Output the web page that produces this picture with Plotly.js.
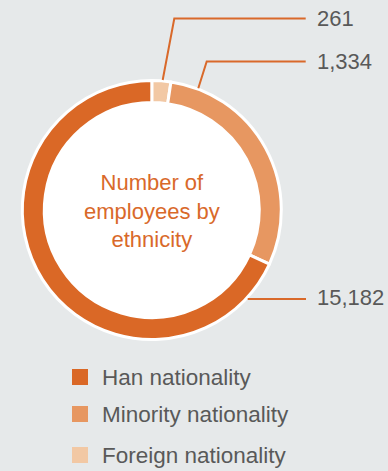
<!DOCTYPE html>
<html>
<head>
<meta charset="utf-8">
<script src="https://cdn.plot.ly/plotly-3.0.1.min.js"></script>
<style>html,body{margin:0;padding:0;background:#e6e9ea;}#chart{width:388px;height:471px;}</style>
</head>
<body>
<div id="chart"></div>
<script>
// Categories (legend order) and the employee counts shown as labels
const categories = ["Han nationality", "Minority nationality", "Foreign nationality"];
const employees = [15182, 1334, 261];
// Angular size of each slice (degrees) as drawn in the reference ring
const sliceDegrees = [245.3, 106.2, 8.5];
const colors = ["#da6826", "#e79761", "#f2c8a4"];
const centerTitle = "Number of<br>employees by<br>ethnicity";

const W = 388, H = 471;
const px = x => x / W;
const py = y => (H - y) / H;

const cx = 151.8, cy = 210, R = 129.5;
const domain = {x: [px(cx - R), px(cx + R)], y: [py(cy + R), py(cy - R)]};

const fmt = n => n.toLocaleString("en-US");
const rev = a => a.slice().reverse();

const traces = [
  {type: "pie", values: [1], labels: ["bg"], domain: domain, hole: 0,
   marker: {colors: ["#ffffff"], line: {width: 0}}, textinfo: "none",
   showlegend: false, hoverinfo: "skip", sort: false},
  // drawn clockwise from 12 o'clock: Foreign, Minority, Han
  {type: "pie", values: rev(sliceDegrees), labels: rev(categories), customdata: rev(employees),
   domain: domain, hole: 0.83, sort: false, direction: "clockwise", rotation: 0,
   marker: {colors: rev(colors), line: {color: "#ffffff", width: 3}},
   textinfo: "none", showlegend: false,
   hovertemplate: "%{label}: %{customdata:,}<extra></extra>"}
];

const lineColor = "#d9692a";
const labelColor = "#595959";
const font = "Liberation Sans, Arial, sans-serif";

// leader lines: [points], label index, label y
const leaders = [
  {pts: [[162.7, 80], [174.3, 18.5], [305.7, 18.5]], idx: 2, ly: 18.5},
  {pts: [[198.3, 88.3], [206.7, 61.5], [305.7, 61.5]], idx: 1, ly: 61.5},
  {pts: [[247.7, 299], [306, 299]], idx: 0, ly: 297}
];

const shapes = [];
const annotations = [];
leaders.forEach(l => {
  const path = l.pts.map((p, i) => (i ? "L" : "M") + px(p[0]) + "," + py(p[1])).join(" ");
  shapes.push({type: "path", xref: "paper", yref: "paper", path: path,
    line: {color: lineColor, width: 2}, fillcolor: "rgba(0,0,0,0)"});
  annotations.push({xref: "paper", yref: "paper", x: px(314.5), y: py(l.ly),
    xanchor: "left", yanchor: "middle", showarrow: false,
    text: fmt(employees[l.idx]), font: {family: font, size: 22, color: labelColor}});
});

annotations.push({xref: "paper", yref: "paper", x: px(cx), y: py(cy + 1),
  xanchor: "center", yanchor: "middle", showarrow: false, text: centerTitle,
  font: {family: font, size: 22, color: "#d9692a"}});

// custom legend
const legendY = [377, 414, 455];
categories.forEach((c, i) => {
  shapes.push({type: "rect", xref: "paper", yref: "paper",
    x0: px(72), x1: px(88), y0: py(legendY[i] - 8), y1: py(legendY[i] + 8),
    fillcolor: colors[i], line: {width: 0}});
  annotations.push({xref: "paper", yref: "paper", x: px(99.5), y: py(legendY[i]),
    xanchor: "left", yanchor: "middle", showarrow: false, text: c,
    font: {family: font, size: 22.5, color: labelColor}});
});

const layout = {
  width: W, height: H, margin: {l: 0, r: 0, t: 0, b: 0},
  paper_bgcolor: "#e6e9ea", plot_bgcolor: "#e6e9ea",
  showlegend: false, shapes: shapes, annotations: annotations
};

Plotly.newPlot("chart", traces, layout, {displayModeBar: false, staticPlot: true});
</script>
</body>
</html>
